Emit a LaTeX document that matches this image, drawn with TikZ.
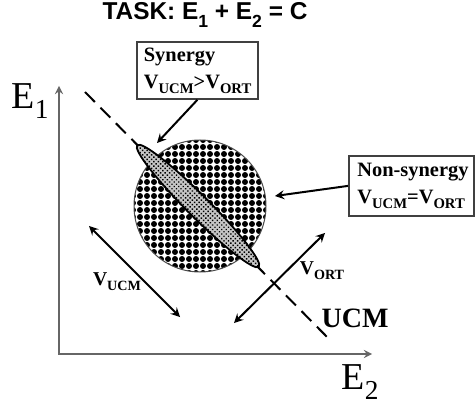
\documentclass[tikz,border=0pt]{standalone}
\usepackage{fontspec}
\setmainfont{Liberation Serif}
\newfontfamily\headfont{Liberation Sans}
\usetikzlibrary{shapes.geometric, arrows, positioning, patterns.meta}
\newcommand{\lowsub}[1]{\raisebox{-0.55ex}{\scalebox{0.72}{#1}}}

\begin{document}
\begin{tikzpicture}[x=0.5pt, y=-0.5pt, >=stealth,
  label box/.style={draw=black!75, line width=0.9pt, rectangle, align=left, inner xsep=3.5pt, inner ysep=2pt, anchor=north west, font=\bfseries\fontsize{10.2}{13.5}\selectfont},
  small label/.style={font=\bfseries\fontsize{9.8}{11}\selectfont},
  axis/.style={draw=black!60, line width=0.8pt, <->},
  pointer/.style={->, line width=1pt},
  spread/.style={<->, line width=1pt}]
  \useasboundingbox (0,0) rectangle (476,406);

  \node (task) at (205,15) {\headfont\bfseries\fontsize{12.2}{14}\selectfont TASK: E\lowsub{1} + E\lowsub{2} = C};

  \coordinate (origin) at (59,354);
  \coordinate (ytop) at (59,86);
  \coordinate (xend) at (372,354);
  \draw[axis] (ytop) -- (origin) -- (xend);
  \node (e1) at (30,101) {\fontsize{19}{22}\selectfont E\lowsub{1}};
  \node (e2) at (360,382) {\fontsize{19}{22}\selectfont E\lowsub{2}};

  \coordinate (ucmtop) at (85,92);
  \coordinate (ucmend) at (332,342);
  \draw[line width=1pt, dash pattern=on 7pt off 4pt] (ucmtop) -- (ucmend);

  \node (blob) [circle, draw=black!70, line width=0.5pt, minimum size=66pt, inner sep=0pt, preaction={fill=white}, pattern={Dots[distance=3.5pt, radius=1.5pt]}] at (200,206) {};
  \node (ellip) [ellipse, draw, line width=0.9pt, minimum width=86pt, minimum height=11pt, inner sep=0pt, rotate=-45, preaction={fill=gray!45}, pattern={Dots[distance=1.6pt, radius=0.5pt, angle=45]}] at (198,206) {};

  \node (syn) [label box, text width=53.5pt, minimum height=28.5pt] at (136,41) {Synergy\\V\lowsub{UCM}>V\lowsub{ORT}};
  \node (nonsyn) [label box, text width=54pt, minimum height=30pt, inner xsep=4.25pt] at (348,155) {\mbox{Non-synergy}\\V\lowsub{UCM}=V\lowsub{ORT}};

  \coordinate (syntip) at (157,143);
  \coordinate (nontip) at (275,196);
  \draw[pointer] (syn.south) -- (syntip);
  \draw[pointer] (nonsyn.west) -- (nontip);

  \coordinate (ucmA) at (89,226);
  \coordinate (ucmB) at (180,317);
  \coordinate (ortA) at (234,323);
  \coordinate (ortB) at (325,233);
  \draw[spread] (ucmA) -- (ucmB);
  \draw[spread] (ortA) -- (ortB);

  \node (vucm) [small label] at (117,282) {V\lowsub{UCM}};
  \node (vort) [small label] at (322,271) {V\lowsub{ORT}};
  \node (ucm) at (355,318) {\bfseries\fontsize{14}{16}\selectfont UCM};
\end{tikzpicture}
\end{document}
